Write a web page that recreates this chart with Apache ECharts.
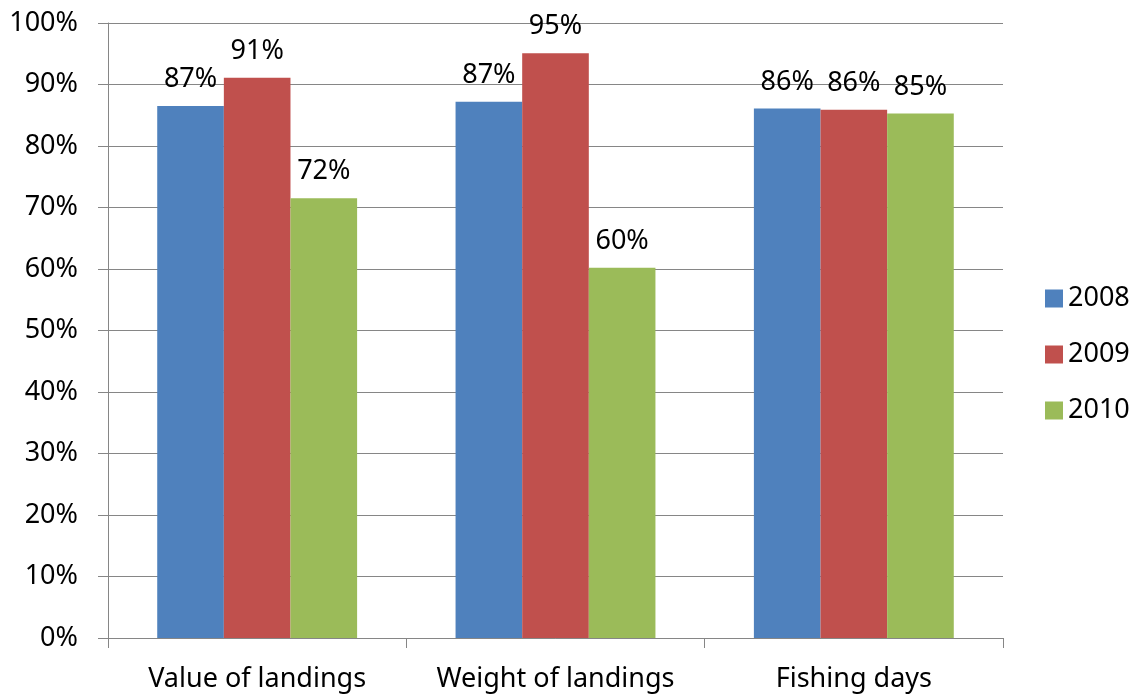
<!DOCTYPE html>
<html>
<head>
<meta charset="utf-8">
<script src="https://cdn.jsdelivr.net/npm/echarts@6/dist/echarts.min.js"></script>
<style>
  html, body { margin: 0; padding: 0; background: #fff; }
  #chart { width: 1148px; height: 699px; }
</style>
</head>
<body>
<div id="chart"></div>
<script>
// data (percent)
var categories = ['Value of landings', 'Weight of landings', 'Fishing days']
var years = ['2008', '2009', '2010']
var values2008 = [86.5, 87.2, 86.1]
var values2009 = [91.1, 95.1, 85.9]
var values2010 = [71.5, 60.2, 85.3]
var colors = ['#4F81BD', '#C0504D', '#9BBB59']

var font = 'Noto Sans'
var seriesValues = [values2008, values2009, values2010]

var chart = echarts.init(document.getElementById('chart'))

var series = years.map(function (y, i) {
  return {
    name: y,
    type: 'bar',
    barGap: 0,
    barCategoryGap: '33%',
    data: seriesValues[i],
    itemStyle: { color: colors[i] },
    label: {
      show: true,
      position: 'top',
      distance: 13,
      color: '#000',
      fontFamily: font,
      fontSize: 27,
      formatter: function (p) { return Math.round(p.value) + '%' }
    },
    animation: false
  }
})

chart.setOption({
  backgroundColor: '#fff',
  grid: {
    left: 108,
    right: 145,
    top: 23,
    bottom: 61
  },
  legend: {
    orient: 'vertical',
    left: 1040,
    top: 280,
    itemWidth: 18,
    itemHeight: 18,
    itemGap: 29,
    icon: 'rect',
    data: years,
    textStyle: { fontFamily: font, fontSize: 27, color: '#000' }
  },
  xAxis: {
    type: 'category',
    data: categories,
    axisLine: { lineStyle: { color: '#868686', width: 1 } },
    axisTick: { show: true, length: 10, lineStyle: { color: '#868686' } },
    axisLabel: {
      interval: 0,
      hideOverlap: false,
      color: '#000',
      fontFamily: font,
      fontSize: 27,
      margin: 28
    }
  },
  yAxis: {
    type: 'value',
    min: 0,
    max: 100,
    interval: 10,
    axisLine: { show: true, lineStyle: { color: '#868686', width: 1 } },
    axisTick: { show: true, length: 10, lineStyle: { color: '#868686' } },
    splitLine: { lineStyle: { color: '#868686', width: 1 } },
    axisLabel: {
      color: '#000',
      fontFamily: font,
      fontSize: 27,
      margin: 30,
      formatter: '{value}%'
    }
  },
  series: series
})
</script>
</body>
</html>
